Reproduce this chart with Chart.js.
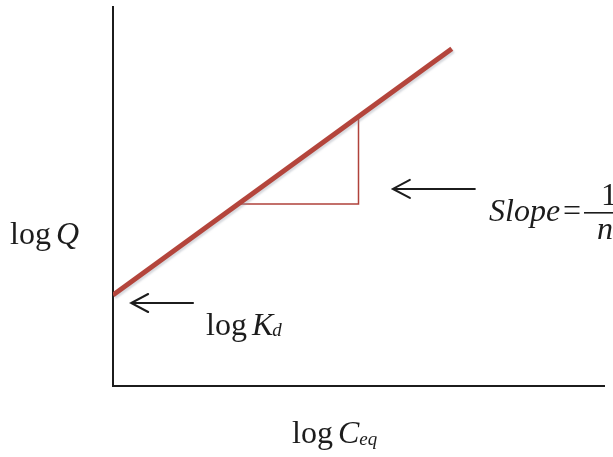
<!DOCTYPE html>
<html>
<head>
<meta charset="utf-8">
<script src="https://cdn.jsdelivr.net/npm/chart.js@4.4.1/dist/chart.umd.min.js"></script>
<style>
  body { margin: 0; background: #fff; }
  .wrap { width: 613px; height: 457px; position: relative; }
</style>
</head>
<body>
<div class="wrap"><canvas id="isothermChart"></canvas></div>
<script>
// Freundlich isotherm sketch (log Q vs log Ceq)
const lineX = [0, 6.9];
const lineY = [2.4, 8.9];
const triX = [2.55, 5, 5];
const triY = [4.8, 4.8, 7.1];
// arrows: tail x -> head x at a fixed y
const arrowFromX = [7.37, 1.63];
const arrowToX = [5.70, 0.37];
const arrowY = [5.2, 2.19];

const toPoints = (xs, ys) => xs.map((x, i) => ({ x: x, y: ys[i] }));

const serif = '"Liberation Serif", "DejaVu Serif", serif';

// draws arrows + the text labels
const annotPlugin = {
    id: 'annot',
    beforeDatasetDraw(chart, args) {
        if (args.index === 0) {
            const c = chart.ctx;
            c.save();
            c.shadowColor = 'rgba(140,145,160,0.35)';
            c.shadowOffsetX = 1.5;
            c.shadowOffsetY = 2;
            c.shadowBlur = 2;
        }
    },
    afterDatasetDraw(chart, args) {
        if (args.index === 0) chart.ctx.restore();
    },
    afterDraw(chart) {
        const c = chart.ctx;
        const xs = chart.scales.x, ys = chart.scales.y;
        c.save();
        c.strokeStyle = '#1c1c1c';
        c.lineWidth = 2;
        c.lineCap = 'round';
        arrowFromX.forEach((fx, i) => {
            let x1 = xs.getPixelForValue(fx);
            let x2 = xs.getPixelForValue(arrowToX[i]);
            let y = ys.getPixelForValue(arrowY[i]);
            c.beginPath();
            c.moveTo(x1, y);
            c.lineTo(x2, y);
            c.moveTo(x2 + 17, y - 9);
            c.lineTo(x2, y);
            c.lineTo(x2 + 17, y + 9);
            c.stroke();
        });

        c.fillStyle = '#1c1c1c';
        c.textBaseline = 'alphabetic';
        c.textAlign = 'left';
        // helper for runs of text with different fonts
        function runs(x, y, parts) {
            parts.forEach(p => {
                c.font = p[1];
                c.fillText(p[0], x, y + (p[2] || 0));
                x += c.measureText(p[0]).width + (p[3] || 0);
            });
        }
        const up = '32px ' + serif, it = 'italic 32px ' + serif, sub = 'italic 19px ' + serif;
        runs(10, 244, [['log', up, 0, 5], ['Q', it]]);
        runs(206, 335, [['log', up, 0, 5], ['K', it, 0, -1], ['d', sub, 1]]);
        runs(292, 443, [['log', up, 0, 5], ['C', it, 0, 0], ['eq', sub, 2]]);
        runs(489, 221, [['Slope', it, 0, 3], ['=', up, 0, 3]]);
        // fraction 1/n
        c.fillRect(584, 212, 40, 1.6);
        c.font = up;
        c.fillText('1', 601, 205);
        c.font = it;
        c.fillText('n', 597, 239);
        c.restore();
    }
};

let ctx = document.getElementById('isothermChart').getContext('2d');
let isothermChart = new Chart(ctx, {
    type: 'scatter',
    data: {
        datasets: [
            {
                data: toPoints(lineX, lineY),
                showLine: true,
                borderColor: '#B4453C',
                borderWidth: 5,
                pointRadius: 0,
                borderCapStyle: 'butt'
            },
            {
                data: toPoints(triX, triY),
                showLine: true,
                borderColor: '#B0423B',
                borderWidth: 1.5,
                pointRadius: 0
            }
        ]
    },
    options: {
        responsive: true,
        maintainAspectRatio: false,
        animation: false,
        layout: {
            padding: { left: 105, right: 9, top: 7, bottom: 63 }
        },
        plugins: {
            legend: { display: false },
            tooltip: { enabled: false }
        },
        scales: {
            x: {
                min: 0,
                max: 10,
                ticks: { display: false },
                grid: { display: false },
                border: { display: true, color: '#1c1c1c', width: 2 }
            },
            y: {
                min: 0,
                max: 10,
                ticks: { display: false },
                grid: { display: false },
                border: { display: true, color: '#1c1c1c', width: 2 }
            }
        }
    },
    plugins: [annotPlugin]
});
</script>
</body>
</html>
